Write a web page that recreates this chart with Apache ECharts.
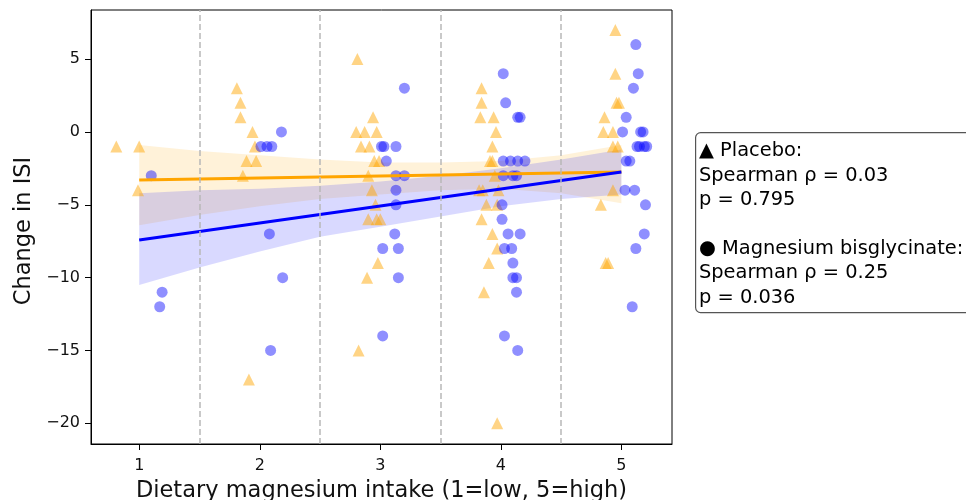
<!DOCTYPE html>
<html>
<head>
<meta charset="utf-8">
<script src="https://cdn.jsdelivr.net/npm/echarts@6/dist/echarts.min.js"></script>
<style>
  html, body { margin: 0; padding: 0; background: #fff; }
  #chart { width: 966px; height: 500px; }
</style>
</head>
<body>
<div id="chart"></div>
<script>
// axis ticks
const tickX = [1, 2, 3, 4, 5];
const tickY = [-20, -15, -10, -5, 0, 5];
const dividers = [1.5, 2.5, 3.5, 4.5];

// jittered points [intake, change in ISI]
const placeboPts = [
  [0.81, -1], [1.0, -1], [0.99, -4],
  [1.81, 3], [1.84, 2], [1.84, 1], [1.94, 0], [1.96, -1], [1.89, -2], [1.97, -2], [1.86, -3], [1.91, -17],
  [2.81, 5], [2.94, 1], [2.80, 0], [2.87, 0], [2.97, 0], [2.84, -1], [2.91, -1], [2.95, -2], [2.99, -2],
  [2.90, -3], [2.93, -4], [2.96, -5], [2.90, -6], [2.97, -6], [3.00, -6], [2.98, -9], [2.89, -10], [2.82, -15],
  [3.84, 3], [3.84, 2], [3.83, 1], [3.94, 1], [3.96, 0], [3.93, -1], [3.91, -2], [3.93, -2], [3.95, -3],
  [3.82, -4], [3.85, -4], [3.98, -4], [3.88, -5], [3.97, -5], [3.84, -6], [3.93, -7], [3.97, -8], [3.90, -9],
  [3.86, -11], [3.97, -20],
  [4.95, 7], [4.95, 4], [4.96, 2], [4.98, 2], [4.86, 1], [4.85, 0], [4.93, 0], [4.93, -1], [4.97, -1],
  [4.93, -4], [4.83, -5], [4.87, -9], [4.89, -9]
];
const magnesiumPts = [
  [1.10, -3], [1.19, -11], [1.17, -12],
  [2.18, 0], [2.01, -1], [2.06, -1], [2.10, -1], [2.08, -7], [2.19, -10], [2.09, -15],
  [3.20, 3], [3.01, -1], [3.03, -1], [3.13, -1], [3.05, -2], [3.13, -3], [3.20, -3], [3.13, -4], [3.13, -5],
  [3.12, -7], [3.02, -8], [3.15, -8], [3.15, -10], [3.02, -14],
  [4.02, 4], [4.04, 2], [4.14, 1], [4.16, 1], [4.02, -2], [4.08, -2], [4.14, -2], [4.20, -2], [4.02, -3],
  [4.10, -3], [4.13, -3], [4.01, -5], [4.01, -6], [4.06, -7], [4.16, -7], [4.03, -8], [4.09, -8], [4.10, -9],
  [4.10, -10], [4.13, -10], [4.13, -11], [4.03, -14], [4.14, -15],
  [5.12, 6], [5.14, 4], [5.10, 3], [5.04, 1], [5.01, 0], [5.16, 0], [5.18, 0], [5.13, -1], [5.15, -1],
  [5.19, -1], [5.21, -1], [5.04, -2], [5.07, -2], [5.03, -4], [5.11, -4], [5.20, -5], [5.19, -7], [5.12, -8],
  [5.09, -12]
];

// regression lines
const fitX = [1, 5];
const placeboFit = [-3.30, -2.75];
const magnesiumFit = [-7.42, -2.75];

// confidence bands
const bandX = [1, 1.5, 2, 2.5, 3, 3.5, 4, 4.5, 5];
const placeboUpper = [-0.9, -1.3, -1.6, -1.9, -2.1, -2.1, -2.0, -1.6, -0.9];
const placeboLower = [-6.4, -5.7, -5.1, -4.6, -4.3, -4.0, -3.9, -4.2, -4.9];
const magnesiumUpper = [-4.2, -4.0, -3.9, -3.7, -3.4, -3.0, -2.5, -1.9, -1.2];
const magnesiumLower = [-10.5, -9.3, -8.2, -7.2, -6.5, -5.8, -5.1, -4.6, -4.3];

const statsText = [
  '▲ Placebo:',
  'Spearman ρ = 0.03',
  'p = 0.795',
  ' ',
  '● Magnesium bisglycinate:',
  'Spearman ρ = 0.25',
  'p = 0.036'
];

const FONT = 'DejaVu Sans';

function band(upper, lower, color) {
  return {
    type: 'custom',
    silent: true,
    z: 1,
    data: [[bandX[0], upper[0]]],
    renderItem: function (params, api) {
      const top = bandX.map((x, i) => api.coord([x, upper[i]]));
      const bot = bandX.map((x, i) => api.coord([x, lower[i]])).reverse();
      return {
        type: 'polygon',
        shape: { points: top.concat(bot) },
        style: { fill: color }
      };
    }
  };
}

const chart = echarts.init(document.getElementById('chart'));
chart.setOption({
  animation: false,
  textStyle: { fontFamily: FONT },
  grid: {
    left: 91, top: 10, width: 581, height: 434,
    outerBoundsMode: 'none',
    containLabel: false,
    show: true, borderColor: '#000', borderWidth: 1, backgroundColor: 'transparent'
  },
  xAxis: {
    type: 'value',
    min: 0.6,
    max: 5.42,
    name: 'Dietary magnesium intake (1=low, 5=high)',
    nameLocation: 'middle',
    nameGap: 36,
    nameTextStyle: { fontSize: 22.5, color: '#111', fontFamily: FONT },
    axisLine: { show: true, onZero: false, lineStyle: { color: '#000', width: 1 } },
    axisTick: { show: true, customValues: tickX, length: 6, lineStyle: { color: '#000' } },
    axisLabel: { customValues: tickX, fontSize: 16, color: '#111', margin: 14, fontFamily: FONT },
    splitLine: { show: false }
  },
  yAxis: {
    type: 'value',
    min: -21.42,
    max: 8.37,
    name: 'Change in ISI',
    nameLocation: 'middle',
    nameGap: 52,
    nameTextStyle: { fontSize: 22.5, color: '#111', fontFamily: FONT, padding: [0, 8, 0, 0] },
    axisLine: { show: true, onZero: false, lineStyle: { color: '#000', width: 1 } },
    axisTick: { show: true, customValues: tickY, length: 6, lineStyle: { color: '#000' } },
    axisLabel: {
      customValues: tickY, fontSize: 16, color: '#111', margin: 11, fontFamily: FONT,
      formatter: v => (v < 0 ? '\u2212' + Math.abs(v) : String(v))
    },
    splitLine: { show: false }
  },
  series: [
    band(placeboUpper, placeboLower, 'rgba(255,165,0,0.15)'),
    band(magnesiumUpper, magnesiumLower, 'rgba(0,0,255,0.15)'),
    {
      name: 'Placebo',
      type: 'scatter',
      symbol: 'triangle',
      symbolSize: 12,
      z: 3,
      itemStyle: { color: 'rgba(255,165,0,0.6)' },
      data: placeboPts,
      markLine: {
        silent: true,
        symbol: 'none',
        label: { show: false },
        lineStyle: { color: '#b8b8b8', type: [6, 3], width: 1.5 },
        data: dividers.map(x => ({ xAxis: x }))
      }
    },
    {
      name: 'Magnesium bisglycinate',
      type: 'scatter',
      symbol: 'circle',
      symbolSize: 11,
      z: 3,
      itemStyle: { color: 'rgba(0,0,255,0.55)' },
      data: magnesiumPts
    },
    {
      type: 'line',
      z: 4,
      showSymbol: false,
      lineStyle: { color: '#FFA500', width: 3 },
      data: fitX.map((x, i) => [x, placeboFit[i]])
    },
    {
      type: 'line',
      z: 4,
      showSymbol: false,
      lineStyle: { color: '#0000FF', width: 3 },
      data: fitX.map((x, i) => [x, magnesiumFit[i]])
    }
  ],
  graphic: [
    {
      type: 'rect',
      left: 695, top: 132,
      shape: { width: 290, height: 180, r: 5 },
      style: { fill: '#fff', stroke: '#555', lineWidth: 1.2 }
    },
    {
      type: 'text',
      left: 699, top: 139,
      style: {
        text: statsText.join('\n'),
        fontSize: 19.4,
        lineHeight: 24.4,
        fontFamily: FONT,
        fill: '#000'
      }
    }
  ]
});
</script>
</body>
</html>
